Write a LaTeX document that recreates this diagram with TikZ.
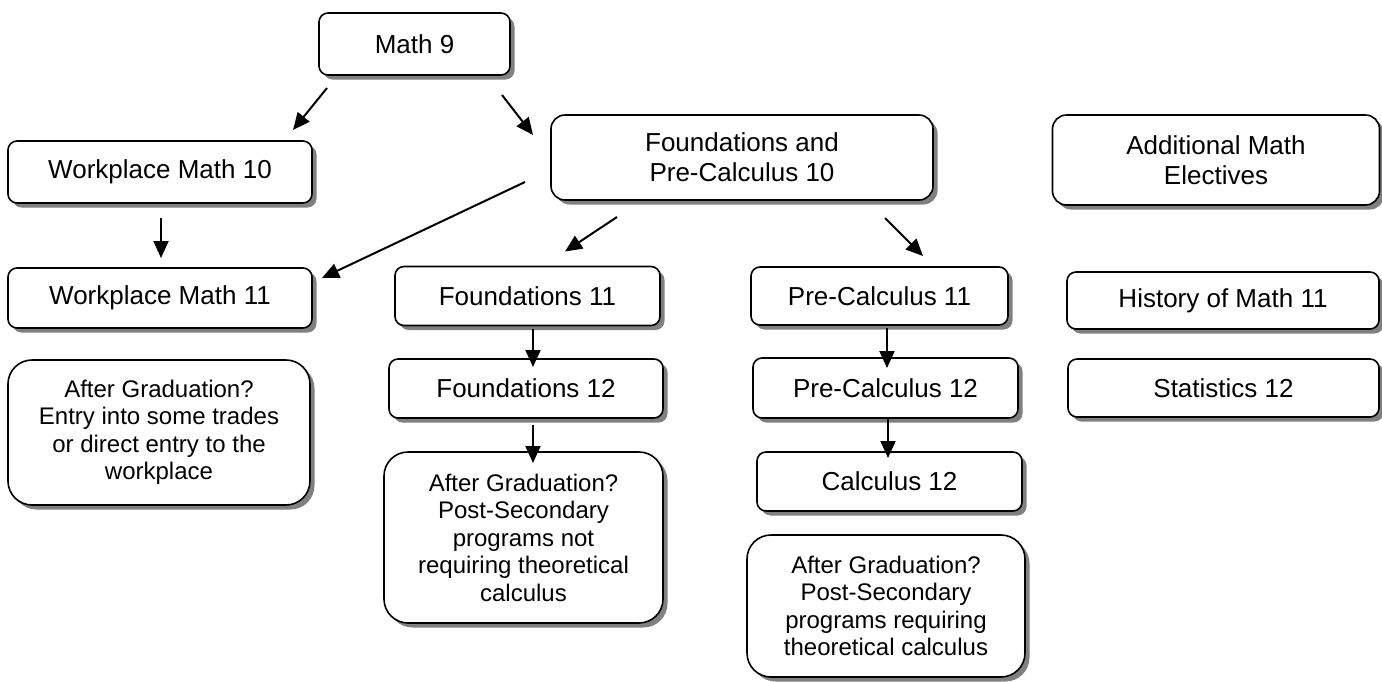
\documentclass[tikz,border=0pt]{standalone}
\usepackage{fontspec}
\setmainfont{Liberation Sans}
\usetikzlibrary{arrows.meta,shadows,calc}
\newcommand\bigfnt{\fontsize{26}{30}\selectfont}
\newcommand\smallfnt{\fontsize{24}{27.5}\selectfont}
\tikzset{
  box/.style={draw, line width=1.6pt, rounded corners=9pt, fill=white,
    inner sep=0pt, outer sep=0pt, align=center, font=\bigfnt,
    drop shadow={shadow xshift=4.5pt, shadow yshift=-4.5pt, fill=black!50, opacity=1}},
  wide/.style={box, rounded corners=14pt},
  grad/.style={box, rounded corners=24pt, font=\smallfnt},
  conn/.style={line width=2pt, -{Triangle[length=17pt,width=15pt]}},
  sz/.style 2 args={minimum width=#1pt, minimum height=#2pt}
}
\begin{document}
\begin{tikzpicture}[x=1pt,y=-1pt]
\useasboundingbox (0,0) rectangle (1382,681);
% nodes
\node[box, sz={191}{62}]  (m9)   at (414.5,44)   {Math 9};
\node[box, sz={304}{62}]  (wm10) at (160,172)    {Workplace Math 10};
\node[wide, sz={382}{85}] (fpc10) at (742,157.5) {Foundations and\\Pre-Calculus 10};
\node[wide, sz={327}{90}] (ame)  at (1216,160)   {Additional Math\\Electives};
\node[box, sz={304}{60}]  (wm11) at (160,298)    {Workplace Math 11};
\node[box, sz={265}{59}]  (f11)  at (527.5,296)  {Foundations 11};
\node[box, sz={257}{58}]  (pc11) at (879.5,296)  {Pre-Calculus 11};
\node[box, sz={312}{57}]  (hm11) at (1223,300.5) {History of Math 11};
\node[box, sz={274}{59}]  (f12)  at (526,388.5)  {Foundations 12};
\node[box, sz={265}{60}]  (pc12) at (885.5,388)  {Pre-Calculus 12};
\node[box, sz={311}{58}]  (st12) at (1223.5,388) {Statistics 12};
\node[box, sz={265}{59}]  (calc12) at (889.5,481.5) {Calculus 12};
\node[grad, sz={302}{145}] (agw) at (159,432.5)  {After Graduation?\\Entry into some trades\\or direct entry to the\\workplace};
\node[grad, sz={279}{171}] (agf) at (523.5,537.5) {After Graduation?\\Post-Secondary\\programs not\\requiring theoretical\\calculus};
\node[grad, sz={278}{142}] (agp) at (886,606)    {After Graduation?\\Post-Secondary\\programs requiring\\theoretical calculus};
% connectors
\draw[conn] ($(m9.south west)+(8,13)$) -- ($(wm10.north east)+(-19,-11)$);
\draw[conn] ($(m9.south east)+(-8,20)$) -- ($(fpc10.north west)+(-18,20)$);
\draw[conn] ($(wm10.south)+(1,15)$) -- ($(wm11.north)+(1,-10)$);
\draw[conn] ($(fpc10.west)+(-26,24.5)$) -- ($(wm11.north east)+(10,10)$);
\draw[conn] ($(fpc10.south)+(-125,17)$) -- ($(f11.north)+(37.5,-15)$);
\draw[conn] ($(fpc10.south east)+(-48,18)$) -- ($(pc11.north)+(43.5,-11)$);
\draw[conn] ($(f11.south)+(5.5,3.5)$) -- ($(f12.north)+(7,8)$);
\draw[conn] ($(f12.south)+(7,7)$) -- ($(agf.north)+(9.5,11)$);
\draw[conn] ($(pc11.south)+(7.5,3)$) -- ($(pc12.north)+(1.5,10)$);
\draw[conn] ($(pc12.south)+(2.5,0)$) -- ($(calc12.north)+(-1.5,6)$);
\end{tikzpicture}
\end{document}
